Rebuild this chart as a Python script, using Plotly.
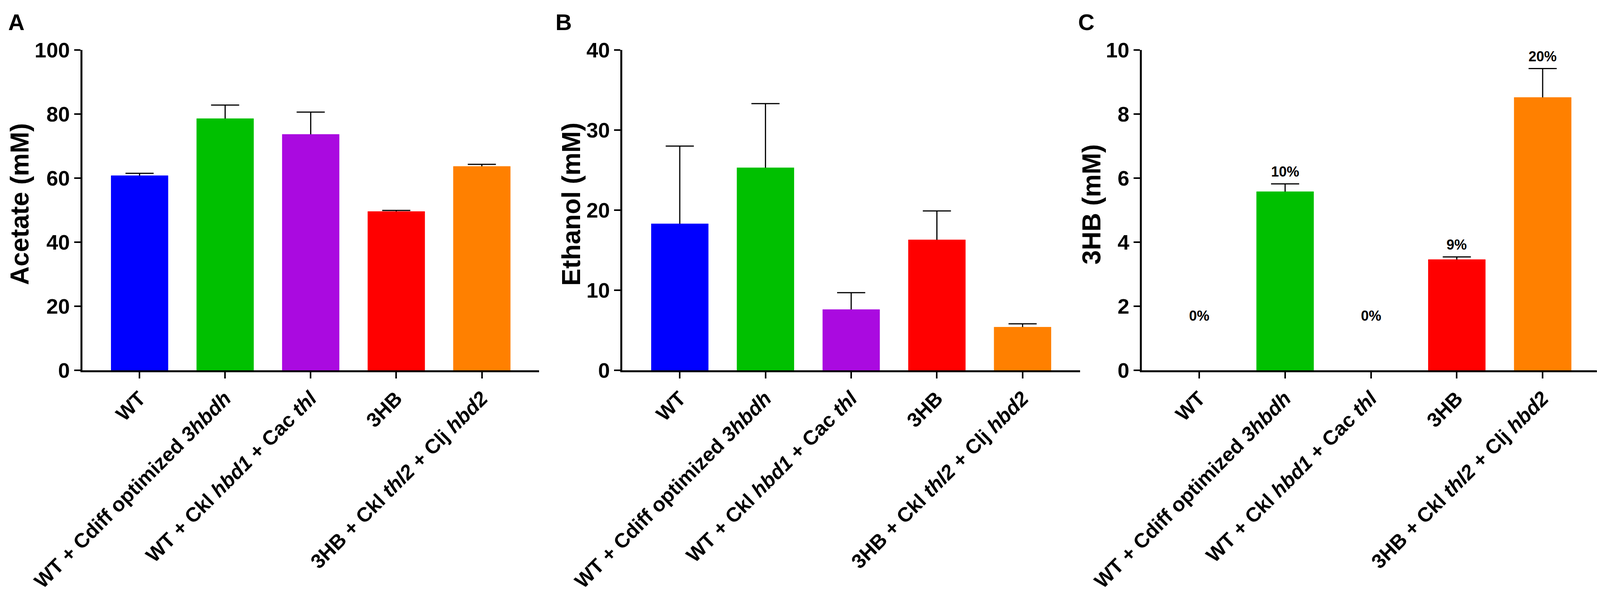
import plotly.graph_objects as go

# Strains (x categories), gene names in italics as in the figure
strains = [
    "WT",
    "WT + Cdiff optimized <i>3hbdh</i>",
    "WT + Ckl <i>hbd1</i> + Cac <i>thl</i>",
    "3HB",
    "3HB + Ckl <i>thl2</i> + Clj <i>hbd2</i>",
]
bar_colors = ["#0000FF", "#00C000", "#AA0AE0", "#FF0000", "#FF8000"]

# Panel A - acetate (mM)
acetate_mean = [60.8, 78.6, 73.7, 49.6, 63.7]
acetate_sd = [0.7, 4.2, 6.9, 0.3, 0.6]

# Panel B - ethanol (mM)
ethanol_mean = [18.3, 25.3, 7.6, 16.3, 5.4]
ethanol_sd = [9.7, 8.0, 2.1, 3.6, 0.4]

# Panel C - 3HB (mM) with yield labels
hb_mean = [0.0, 5.58, 0.0, 3.46, 8.52]
hb_sd = [None, 0.24, None, 0.08, 0.9]
hb_yield = ["0%", "10%", "0%", "9%", "20%"]

# reference frame the layout fractions were measured in
W, H = 4328, 1554
FONT = "Liberation Sans, Arial, sans-serif"
ZERO_LABEL_Y = 1.7
LABEL_GAP = 0.38

panels = [
    # letter, title, mean, sd, ymax, dtick, x domain (px), letter x, title x
    ("A", "Acetate (mM)", acetate_mean, acetate_sd, 100, 20, (214, 1450), 12, 44),
    ("B", "Ethanol (mM)", ethanol_mean, ethanol_sd, 40, 10, (1675, 2913), 1492, 1536),
    ("C", "3HB (mM)", hb_mean, hb_sd, 10, 2, (3080, 4320), 2906, 2944),
]

plot_top, plot_bottom = 120, 940
y_domain = [1 - plot_bottom / H, 1 - plot_top / H]

fig = go.Figure()
annotations = []

for i, (letter, title, mean, sd, ymax, dtick, (x0, x1), lx, tx) in enumerate(panels):
    n = "" if i == 0 else str(i + 1)
    idx = list(range(len(strains)))
    with_err = [k for k in idx if sd[k] is not None]

    # bars carrying the (symmetric) error bars; the lower half gets hidden
    # by the plain bars drawn on top, leaving only the upper whisker
    fig.add_trace(
        go.Bar(
            x=with_err,
            y=[mean[k] for k in with_err],
            marker=dict(color=[bar_colors[k] for k in with_err], line=dict(width=0)),
            error_y=dict(
                type="data",
                array=[sd[k] for k in with_err],
                color="black",
                thickness=3,
                width=36,
            ),
            xaxis="x" + n,
            yaxis="y" + n,
            showlegend=False,
        )
    )
    fig.add_trace(
        go.Bar(
            x=idx,
            y=mean,
            marker=dict(color=bar_colors, line=dict(width=0)),
            xaxis="x" + n,
            yaxis="y" + n,
            showlegend=False,
        )
    )

    axis_common = dict(
        showline=True,
        linecolor="black",
        linewidth=5,
        ticks="outside",
        tickcolor="black",
        tickwidth=4,
        showgrid=False,
        zeroline=False,
        automargin=False,
        tickfont=dict(family=FONT, size=54, color="black", weight="bold"),
    )
    fig.update_layout(
        **{
            "xaxis" + n: dict(
                axis_common,
                domain=[x0 / W, x1 / W],
                anchor="y" + n,
                range=[-0.67, 4.67],
                tickvals=idx,
                ticktext=strains,
                tickangle=-45,
                ticklen=16,
                tickfont=dict(family=FONT, size=52, color="black", weight="bold"),
            ),
            "yaxis" + n: dict(
                axis_common,
                domain=y_domain,
                anchor="x" + n,
                range=[0, ymax],
                dtick=dtick,
                ticklen=16,
            ),
        }
    )

    # panel letter
    annotations.append(
        dict(
            text=letter, xref="paper", yref="paper",
            x=lx / W, y=1 - 14 / H, xanchor="left", yanchor="top",
            showarrow=False,
            font=dict(family=FONT, size=58, color="black", weight="bold"),
        )
    )
    # y-axis title
    annotations.append(
        dict(
            text=title, xref="paper", yref="paper",
            x=tx / W, y=1 - 515 / H, xanchor="center", yanchor="middle",
            textangle=-90, showarrow=False,
            font=dict(family=FONT, size=66, color="black", weight="bold"),
        )
    )

# yield labels over the 3HB bars
for k, label in enumerate(hb_yield):
    if hb_mean[k] > 0:
        y = hb_mean[k] + (hb_sd[k] or 0) + LABEL_GAP
    else:
        y = ZERO_LABEL_Y
    annotations.append(
        dict(
            text=label, xref="x3", yref="y3", x=k, y=y,
            xanchor="center", yanchor="middle", showarrow=False,
            font=dict(family=FONT, size=36, color="black", weight="bold"),
        )
    )

fig.update_layout(
    autosize=True,
    margin=dict(l=0, r=0, t=0, b=0, autoexpand=False),
    paper_bgcolor="white",
    plot_bgcolor="white",
    barmode="overlay",
    bargap=0.333,
    annotations=annotations,
)

# let the figure fill the browser viewport
fig.write_html("out.html", default_width="100vw", default_height="100vh")
